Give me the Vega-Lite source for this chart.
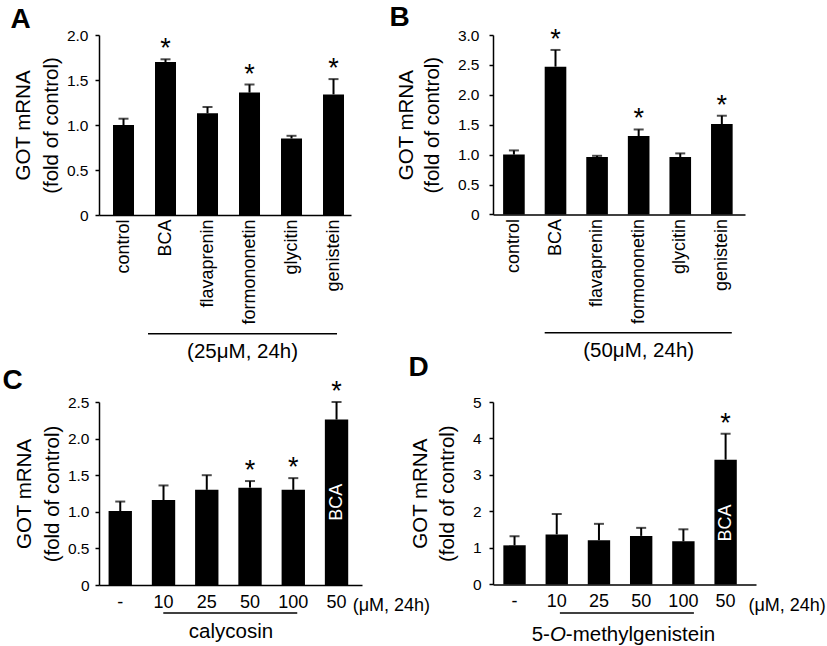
{
  "$schema": "https://vega.github.io/schema/vega-lite/v6.json",
  "background": "white",
  "padding": {"left": 2, "top": 3, "right": 0, "bottom": 0},
  "columns": 2,
  "bounds": "flush",
  "spacing": {"row": 187, "column": 131},
  "config": {
    "font": "Liberation Sans",
    "view": {"stroke": null},
    "axis": {"domainColor": "black", "domainWidth": 1.5, "tickColor": "black", "tickWidth": 1.5, "labelColor": "black", "titleColor": "black", "grid": false, "labelFont": "Liberation Sans", "titleFont": "Liberation Sans", "titleFontWeight": "normal", "labelOverlap": false},
    "title": {"font": "Liberation Sans", "fontSize": 28, "fontWeight": "bold", "anchor": "start", "frame": "bounds", "color": "black"},
    "text": {"font": "Liberation Sans", "color": "black"}
  },
  "concat": [
    {
      "title": {"text": "A", "dx": -3, "dy": 10},
      "width": 252, "height": 180,
      "data": {"values": [
        {"compound": "control", "mean": 1.0, "hi": 1.07, "sig": false},
        {"compound": "BCA", "mean": 1.70, "hi": 1.73, "sig": true},
        {"compound": "flavaprenin", "mean": 1.13, "hi": 1.20, "sig": false},
        {"compound": "formononetin", "mean": 1.36, "hi": 1.45, "sig": true},
        {"compound": "glycitin", "mean": 0.85, "hi": 0.88, "sig": false},
        {"compound": "genistein", "mean": 1.34, "hi": 1.51, "sig": true}
      ]},
      "encoding": {"x": {"field": "compound", "type": "nominal", "sort": null, "scale": {"paddingInner": 0.5, "paddingOuter": 0.25, "align": 0.667}, "axis": {"title": null, "labelAngle": -90, "labelFontSize": 18, "ticks": false, "labelPadding": 4}}},
      "layer": [
        {"mark": {"type": "bar", "color": "black"}, "encoding": {"y": {"field": "mean", "type": "quantitative", "scale": {"domain": [0, 2], "nice": false}, "axis": {"title": ["GOT mRNA", "(fold of control)"], "titleFontSize": 20.5, "titleLineHeight": 28, "titlePadding": 5, "labelFontSize": 15.5, "labelPadding": 7, "tickSize": 4, "tickCount": 12, "values": [0, 0.5, 1, 1.5, 2], "labelExpr": "datum.value === 0 ? '0' : format(datum.value, '.1f')"}}}},
        {"mark": {"type": "rule", "strokeWidth": 2, "color": "black"}, "encoding": {"y": {"field": "mean", "type": "quantitative"}, "y2": {"field": "hi"}}},
        {"mark": {"type": "tick", "thickness": 2, "size": 10, "color": "black"}, "encoding": {"y": {"field": "hi", "type": "quantitative"}}},
        {"transform": [{"filter": "datum.sig"}], "mark": {"type": "text", "text": "*", "fontSize": 27, "baseline": "alphabetic", "dy": -2}, "encoding": {"y": {"field": "hi", "type": "quantitative"}}},
        {"data": {"values": [{"note": "(25μM, 24h)"}]}, "mark": {"type": "rule", "strokeWidth": 1.5, "color": "black", "clip": false}, "encoding": {"x": {"datum": "BCA", "type": "nominal", "bandPosition": -0.333}, "x2": {"datum": "genistein", "bandPosition": 0.667}, "y": {"datum": -1.32, "type": "quantitative"}}},
        {"data": {"values": [{"note": "(25μM, 24h)"}]}, "mark": {"type": "text", "fontSize": 20.5, "baseline": "middle", "align": "center", "clip": false}, "encoding": {"x": {"datum": "formononetin", "type": "nominal", "bandPosition": 0.17}, "y": {"datum": -1.52, "type": "quantitative"}, "text": {"field": "note"}}}
      ]
    },
    {
      "title": {"text": "B", "dx": -7, "dy": 10},
      "width": 252, "height": 179.4,
      "data": {"values": [
        {"compound": "control", "mean": 1.0, "hi": 1.07, "sig": false},
        {"compound": "BCA", "mean": 2.47, "hi": 2.75, "sig": true},
        {"compound": "flavaprenin", "mean": 0.96, "hi": 0.98, "sig": false},
        {"compound": "formononetin", "mean": 1.31, "hi": 1.42, "sig": true},
        {"compound": "glycitin", "mean": 0.96, "hi": 1.02, "sig": false},
        {"compound": "genistein", "mean": 1.51, "hi": 1.65, "sig": true}
      ]},
      "encoding": {"x": {"field": "compound", "type": "nominal", "sort": null, "scale": {"paddingInner": 0.48, "paddingOuter": 0.27, "align": 0.45}, "axis": {"title": null, "labelAngle": -90, "labelFontSize": 18, "ticks": false, "labelPadding": 4}}},
      "layer": [
        {"mark": {"type": "bar", "color": "black"}, "encoding": {"y": {"field": "mean", "type": "quantitative", "scale": {"domain": [0, 3], "nice": false}, "axis": {"title": ["GOT mRNA", "(fold of control)"], "titleFontSize": 20.5, "titleLineHeight": 26, "titlePadding": 15, "labelFontSize": 15.5, "labelPadding": 10, "tickSize": 4, "tickCount": 12, "values": [0, 0.5, 1, 1.5, 2, 2.5, 3], "labelExpr": "datum.value === 0 ? '0' : format(datum.value, '.1f')"}}}},
        {"mark": {"type": "rule", "strokeWidth": 2, "color": "black"}, "encoding": {"y": {"field": "mean", "type": "quantitative"}, "y2": {"field": "hi"}}},
        {"mark": {"type": "tick", "thickness": 2, "size": 10, "color": "black"}, "encoding": {"y": {"field": "hi", "type": "quantitative"}}},
        {"transform": [{"filter": "datum.sig"}], "mark": {"type": "text", "text": "*", "fontSize": 27, "baseline": "alphabetic", "dy": -2}, "encoding": {"y": {"field": "hi", "type": "quantitative"}}},
        {"data": {"values": [{"note": "(50μM, 24h)"}]}, "mark": {"type": "rule", "strokeWidth": 1.5, "color": "black", "clip": false}, "encoding": {"x": {"datum": "BCA", "type": "nominal", "bandPosition": 0}, "x2": {"datum": "genistein", "bandPosition": 0.96}, "y": {"datum": -1.98, "type": "quantitative"}}},
        {"data": {"values": [{"note": "(50μM, 24h)"}]}, "mark": {"type": "text", "fontSize": 20.5, "baseline": "middle", "align": "center", "clip": false}, "encoding": {"x": {"datum": "formononetin", "type": "nominal", "bandPosition": 0.5}, "y": {"datum": -2.29, "type": "quantitative"}, "text": {"field": "note"}}}
      ]
    },
    {
      "title": {"text": "C", "dx": -12, "dy": 21},
      "width": 263, "height": 183,
      "data": {"values": [
        {"compound": "-", "mean": 1.01, "hi": 1.14, "sig": false},
        {"compound": "10", "mean": 1.16, "hi": 1.36, "sig": false},
        {"compound": "25", "mean": 1.30, "hi": 1.50, "sig": false},
        {"compound": "50", "mean": 1.33, "hi": 1.42, "sig": true},
        {"compound": "100", "mean": 1.30, "hi": 1.46, "sig": true},
        {"compound": "BCA", "mean": 2.26, "hi": 2.50, "sig": true}
      ]},
      "encoding": {"x": {"field": "compound", "type": "nominal", "sort": null, "scale": {"paddingInner": 0.46, "paddingOuter": 0.27, "align": 0.41}, "axis": {"title": "calycosin", "titleFontSize": 20.5, "titlePadding": 10, "labelAngle": 0, "labelFontSize": 18, "ticks": false, "labelPadding": 8, "labelExpr": "datum.value === 'BCA' ? '50' : datum.value"}}},
      "layer": [
        {"mark": {"type": "bar", "color": "black"}, "encoding": {"y": {"field": "mean", "type": "quantitative", "scale": {"domain": [0, 2.5], "nice": false}, "axis": {"title": ["GOT mRNA", "(fold of control)"], "titleFontSize": 20.5, "titleLineHeight": 28, "titlePadding": 5, "labelFontSize": 15.5, "labelPadding": 6, "tickSize": 4, "tickCount": 12, "values": [0, 0.5, 1, 1.5, 2, 2.5], "labelExpr": "datum.value === 0 ? '0' : format(datum.value, '.1f')"}}}},
        {"mark": {"type": "rule", "strokeWidth": 2, "color": "black"}, "encoding": {"y": {"field": "mean", "type": "quantitative"}, "y2": {"field": "hi"}}},
        {"mark": {"type": "tick", "thickness": 2, "size": 10, "color": "black"}, "encoding": {"y": {"field": "hi", "type": "quantitative"}}},
        {"transform": [{"filter": "datum.sig"}], "mark": {"type": "text", "text": "*", "fontSize": 27, "baseline": "alphabetic", "dy": -2}, "encoding": {"y": {"field": "hi", "type": "quantitative"}}},
        {"transform": [{"filter": "datum.compound === 'BCA'"}], "mark": {"type": "text", "angle": 270, "fontSize": 18, "color": "white", "baseline": "middle", "align": "center"}, "encoding": {"y": {"datum": 1.13, "type": "quantitative"}, "text": {"field": "compound"}}},
        {"data": {"values": [{"note": "(μM, 24h)"}]}, "mark": {"type": "text", "fontSize": 18, "baseline": "middle", "align": "left", "clip": false}, "encoding": {"x": {"datum": "BCA", "type": "nominal", "bandPosition": 1.19}, "y": {"datum": -0.29, "type": "quantitative"}, "text": {"field": "note"}}},
        {"data": {"values": [{"note": "calycosin"}]}, "mark": {"type": "rule", "strokeWidth": 1.5, "color": "black", "clip": false}, "encoding": {"x": {"datum": "10", "type": "nominal", "bandPosition": 0.49}, "x2": {"datum": "100", "bandPosition": 0.67}, "y": {"datum": -0.383, "type": "quantitative"}}}
      ]
    },
    {
      "title": {"text": "D", "dx": -2, "dy": -9},
      "width": 263, "height": 182.4,
      "data": {"values": [
        {"compound": "-", "mean": 1.07, "hi": 1.32, "sig": false},
        {"compound": "10", "mean": 1.37, "hi": 1.93, "sig": false},
        {"compound": "25", "mean": 1.21, "hi": 1.66, "sig": false},
        {"compound": "50", "mean": 1.33, "hi": 1.55, "sig": false},
        {"compound": "100", "mean": 1.18, "hi": 1.51, "sig": false},
        {"compound": "BCA", "mean": 3.42, "hi": 4.13, "sig": true}
      ]},
      "encoding": {"x": {"field": "compound", "type": "nominal", "sort": null, "scale": {"paddingInner": 0.47, "paddingOuter": 0.35, "align": 0.35}, "axis": {"title": null, "labelAngle": 0, "labelFontSize": 18, "ticks": false, "labelPadding": 8, "labelExpr": "datum.value === 'BCA' ? '50' : datum.value"}}},
      "layer": [
        {"mark": {"type": "bar", "color": "black"}, "encoding": {"y": {"field": "mean", "type": "quantitative", "scale": {"domain": [0, 5], "nice": false}, "axis": {"title": ["GOT mRNA", "(fold of control)"], "titleFontSize": 20.5, "titleLineHeight": 27, "titlePadding": 15, "labelFontSize": 15.5, "labelPadding": 8, "tickSize": 4, "tickCount": 12, "values": [0, 1, 2, 3, 4, 5], "format": "d"}}}},
        {"mark": {"type": "rule", "strokeWidth": 2, "color": "black"}, "encoding": {"y": {"field": "mean", "type": "quantitative"}, "y2": {"field": "hi"}}},
        {"mark": {"type": "tick", "thickness": 2, "size": 10, "color": "black"}, "encoding": {"y": {"field": "hi", "type": "quantitative"}}},
        {"transform": [{"filter": "datum.sig"}], "mark": {"type": "text", "text": "*", "fontSize": 27, "baseline": "alphabetic", "dy": -2}, "encoding": {"y": {"field": "hi", "type": "quantitative"}}},
        {"transform": [{"filter": "datum.compound === 'BCA'"}], "mark": {"type": "text", "angle": 270, "fontSize": 18, "color": "white", "baseline": "middle", "align": "center"}, "encoding": {"y": {"datum": 1.68, "type": "quantitative"}, "text": {"field": "compound"}}},
        {"data": {"values": [{"note": "(μM, 24h)"}]}, "mark": {"type": "text", "fontSize": 18, "baseline": "middle", "align": "left", "clip": false}, "encoding": {"x": {"datum": "BCA", "type": "nominal", "bandPosition": 1.52}, "y": {"datum": -0.59, "type": "quantitative"}, "text": {"field": "note"}}},
        {"data": {"values": [{"note": "5-O-methylgenistein"}]}, "mark": {"type": "rule", "strokeWidth": 1.5, "color": "black", "clip": false}, "encoding": {"x": {"datum": "10", "type": "nominal", "bandPosition": 0.64}, "x2": {"datum": "100", "bandPosition": 0.97}, "y": {"datum": -0.784, "type": "quantitative"}}},
        {"data": {"values": [{"part": "5-"}]}, "mark": {"type": "text", "fontSize": 20.5, "baseline": "middle", "align": "right", "dx": -8, "clip": false}, "encoding": {"x": {"datum": "10", "type": "nominal", "bandPosition": 0.55}, "y": {"datum": -1.39, "type": "quantitative"}, "text": {"field": "part"}}},
        {"data": {"values": [{"part": "O"}]}, "mark": {"type": "text", "fontSize": 20.5, "fontStyle": "italic", "baseline": "middle", "align": "center", "clip": false}, "encoding": {"x": {"datum": "10", "type": "nominal", "bandPosition": 0.55}, "y": {"datum": -1.39, "type": "quantitative"}, "text": {"field": "part"}}},
        {"data": {"values": [{"part": "-methylgenistein"}]}, "mark": {"type": "text", "fontSize": 20.5, "baseline": "middle", "align": "left", "dx": 8, "clip": false}, "encoding": {"x": {"datum": "10", "type": "nominal", "bandPosition": 0.55}, "y": {"datum": -1.39, "type": "quantitative"}, "text": {"field": "part"}}}
      ]
    }
  ]
}
